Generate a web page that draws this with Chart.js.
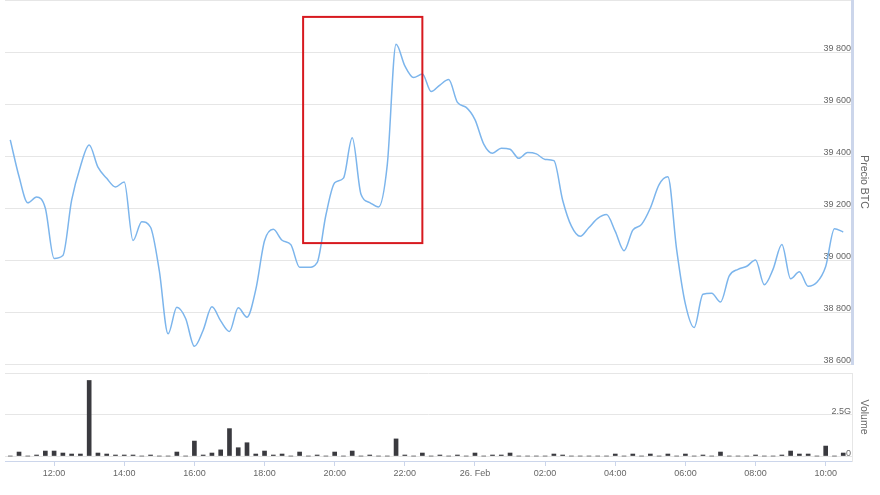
<!DOCTYPE html>
<html><head><meta charset="utf-8">
<script src="https://cdn.jsdelivr.net/npm/chart.js@4/dist/chart.umd.min.js"></script>
<style>
html,body{margin:0;padding:0;background:#fff;}
#wrap{position:relative;width:880px;height:495px;overflow:hidden;}
#c1{position:absolute;left:0;top:0;}
#c2{position:absolute;left:0;top:366px;}
</style></head><body>
<div id="wrap">
<canvas id="c1" width="880" height="365" style="width:880px;height:365px"></canvas>
<canvas id="c2" width="880" height="129" style="width:880px;height:129px"></canvas>
</div>
<script>
// 15-minute candles, 25 Feb 10:45 -> 26 Feb 10:30 (hours counted from 25 Feb 00:00)
const START_HOUR = 10.75;
const STEP_HOURS = 0.25;

const price = [
  39462, 39321, 39220, 39242, 39199, 39006, 39017, 39230, 39360, 39442,
  39357, 39314, 39281, 39300, 39075, 39147, 39126, 38958, 38716, 38818,
  38775, 38668, 38730, 38820, 38766, 38725, 38816, 38780, 38886, 39074,
  39118, 39076, 39059, 38972, 38972, 38990, 39173, 39297, 39315, 39470,
  39253, 39221, 39204, 39367, 39830, 39747, 39702, 39715, 39648, 39673,
  39694, 39606, 39587, 39540, 39446, 39411, 39430, 39426, 39391, 39413,
  39408, 39387, 39382, 39230, 39130, 39091, 39125, 39160, 39175, 39110,
  39036, 39115, 39137, 39200, 39290, 39320, 39040, 38830, 38740, 38868,
  38872, 38838, 38939, 38964, 38976, 39000, 38905, 38965, 39060, 38928,
  38955, 38899, 38914, 38975, 39120, 39108
];

// volume in billions (G)
const volumeG = [
  0, 0.24, 0, 0.06, 0.3, 0.3, 0.18, 0.12, 0.12, 4.55,
  0.18, 0.12, 0.06, 0.06, 0.06, 0, 0.06, 0, 0, 0.24,
  0, 0.9, 0.06, 0.18, 0.37, 1.65, 0.5, 0.8, 0.12, 0.3,
  0.06, 0.12, 0, 0.24, 0, 0.06, 0, 0.24, 0, 0.3,
  0, 0.06, 0, 0, 1.03, 0.06, 0, 0.18, 0, 0.06,
  0, 0.06, 0, 0.18, 0, 0.06, 0.06, 0.18, 0, 0,
  0, 0, 0.12, 0.06, 0, 0, 0, 0, 0, 0.12,
  0, 0.12, 0, 0.12, 0, 0.12, 0, 0.12, 0, 0.06,
  0, 0.24, 0, 0, 0, 0.06, 0, 0, 0.06, 0.3,
  0.12, 0.12, 0, 0.6, 0, 0.18
];

const tickHours  = [12, 14, 16, 18, 20, 22, 24, 26, 28, 30, 32, 34];
const tickLabels = ['12:00','14:00','16:00','18:00','20:00','22:00','26. Feb','02:00','04:00','06:00','08:00','10:00'];
const priceTicks = [38600, 38800, 39000, 39200, 39400, 39600, 39800, 40000];
const volumeTicks = [0, 2.5, 5];
const highlight = { fromHour: 19.1, toHour: 22.5, low: 39065, high: 39935 };

const hours = price.map((_, i) => START_HOUR + i * STEP_HOURS);
const X_MIN = 10.6, X_MAX = 34.75;

Chart.defaults.font.family = "'Liberation Sans', Arial, sans-serif";
Chart.defaults.color = '#666';

function fmt(v) {
  return Math.floor(v / 1000) + ' ' + String(v % 1000).padStart(3, '0');
}
function fitY(s) { s.width = 28; s.paddingTop = 0; s.paddingBottom = 0; }
function fitX(s) { s.height = 34; s.paddingLeft = 0; s.paddingRight = 0; }

const boxPlugin = {
  id: 'box',
  afterDatasetsDraw(chart) {
    const { ctx, scales: { x, y } } = chart;
    const l = x.getPixelForValue(highlight.fromHour);
    const r = x.getPixelForValue(highlight.toHour);
    const t = y.getPixelForValue(highlight.high);
    const b = y.getPixelForValue(highlight.low);
    ctx.save();
    ctx.strokeStyle = '#d7191f';
    ctx.lineWidth = 2;
    ctx.strokeRect(l, t, r - l, b - t);
    ctx.restore();
  }
};

new Chart(document.getElementById('c1'), {
  type: 'line',
  data: {
    datasets: [{
      data: price.map((p, i) => ({ x: hours[i], y: p })),
      borderColor: '#7cb5ec',
      borderWidth: 1.5,
      pointRadius: 0,
      cubicInterpolationMode: 'monotone',
      fill: false
    }]
  },
  options: {
    responsive: false, animation: false, devicePixelRatio: 1,
    layout: { padding: { left: 5, top: 0, bottom: 1, right: 0 } },
    plugins: { legend: { display: false }, tooltip: { enabled: false } },
    scales: {
      x: { type: 'linear', display: false, min: X_MIN, max: X_MAX },
      y: {
        position: 'right', min: 38600, max: 40000,
        afterBuildTicks: s => { s.ticks = priceTicks.map(v => ({ value: v })); },
        afterFit: fitY,
        grid: { color: '#e6e6e6', lineWidth: 1, drawTicks: false },
        border: { display: true, color: '#ccd6eb', width: 3 },
        ticks: { mirror: true, padding: -1, labelOffset: -3, color: '#666',
          font: { size: 9 }, callback: v => v === 40000 ? '' : fmt(v) },
        title: { display: true, text: 'Precio BTC', color: '#666',
          font: { size: 10.5 }, padding: { top: 10, bottom: 0 } }
      }
    }
  },
  plugins: [boxPlugin]
});

new Chart(document.getElementById('c2'), {
  type: 'bar',
  data: {
    datasets: [{
      data: volumeG.map((v, i) => ({ x: hours[i], y: v })),
      backgroundColor: '#3a3a3f',
      barThickness: 4
    }]
  },
  options: {
    responsive: false, animation: false, devicePixelRatio: 1,
    layout: { padding: { left: 5, top: 7, bottom: 0, right: 0 } },
    plugins: { legend: { display: false }, tooltip: { enabled: false } },
    scales: {
      x: {
        type: 'linear', min: X_MIN, max: X_MAX, offset: false,
        afterBuildTicks: s => { s.ticks = tickHours.map(v => ({ value: v })); },
        afterFit: fitX,
        grid: { drawOnChartArea: false, drawTicks: true, tickLength: 5, color: '#ccd6eb', offset: false },
        border: { display: true, color: '#ccd6eb', width: 1 },
        ticks: { color: '#666', font: { size: 9 }, padding: 2, maxRotation: 0, autoSkip: false,
          callback: v => tickLabels[tickHours.indexOf(v)] }
      },
      y: {
        position: 'right', min: -0.3, max: 5,
        afterBuildTicks: s => { s.ticks = volumeTicks.map(v => ({ value: v })); },
        afterFit: fitY,
        grid: { color: '#e6e6e6', lineWidth: 1, drawTicks: false },
        border: { display: true, color: '#e6e6e6', width: 1 },
        ticks: { mirror: true, padding: -1, labelOffset: -3, color: '#666', font: { size: 9 },
          callback: v => v === 0 ? '0' : (v === 2.5 ? '2.5G' : '') },
        title: { display: true, text: 'Volume', color: '#666',
          font: { size: 10.5 }, padding: { top: 10, bottom: 0 } }
      }
    }
  }
});
</script>
</body></html>
